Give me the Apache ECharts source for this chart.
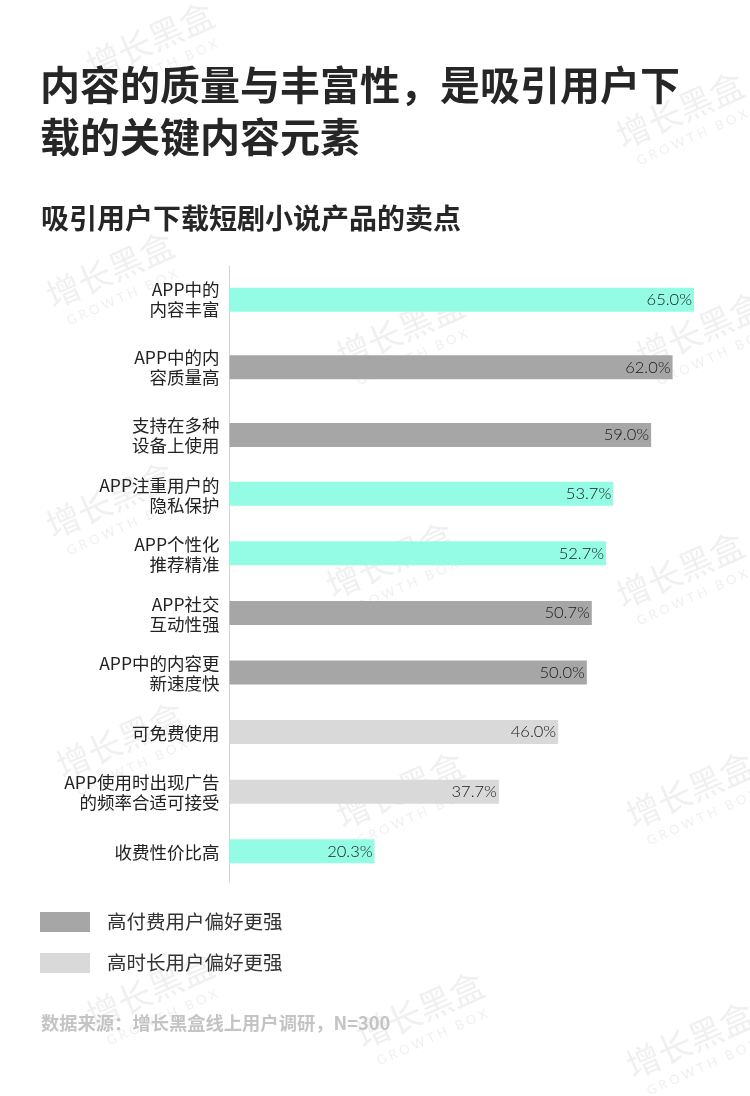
<!DOCTYPE html>
<html>
<head>
<meta charset="utf-8">
<script src="https://cdn.jsdelivr.net/npm/echarts@6/dist/echarts.min.js"></script>
<style>
html,body{margin:0;padding:0;background:#fff;}
#chart{width:750px;height:1096px;}
</style>
</head>
<body>
<div id="chart"></div>
<script>
// ---- data ----
const categories = [
  'APP中的\n内容丰富',
  'APP中的内\n容质量高',
  '支持在多种\n设备上使用',
  'APP注重用户的\n隐私保护',
  'APP个性化\n推荐精准',
  'APP社交\n互动性强',
  'APP中的内容更\n新速度快',
  '可免费使用',
  'APP使用时出现广告\n的频率合适可接受',
  '收费性价比高'
];
const values = [65.0, 62.0, 59.0, 53.7, 52.7, 50.7, 50.0, 46.0, 37.7, 20.3];
const preference = ['none', 'paid', 'paid', 'none', 'none', 'paid', 'paid', 'time', 'time', 'none'];
const legendNames = ['高付费用户偏好更强', '高时长用户偏好更强'];

const colorMap = { none: '#94FCE4', paid: '#A6A6A6', time: '#D9D9D9' };
const CJK = '"Noto Sans CJK SC", "Noto Sans", sans-serif';
const NUM = 'Lato, "Noto Sans", sans-serif';

const splitAt = 3;
function mkData(from, to) {
  return values.slice(from, to).map((v, i) => ({
    value: v,
    itemStyle: { color: colorMap[preference[from + i]] }
  }));
}

const chart = echarts.init(document.getElementById('chart'));

const yAxisCommon = {
  type: 'category',
  inverse: true,
  axisTick: { show: false },
  axisLine: { show: true, lineStyle: { color: '#D4D4D4', width: 1 } },
  axisLabel: {
    color: '#222', fontFamily: CJK, fontSize: 17.5, lineHeight: 20,
    margin: 10, align: 'right'
  }
};
const xAxisCommon = {
  type: 'value', min: 0, max: 65,
  show: false, splitLine: { show: false }
};
const barCommon = {
  type: 'bar', barWidth: 24,
  label: {
    show: true, position: 'insideRight', distance: 2,
    formatter: p => p.value.toFixed(1) + '%',
    color: '#1a1a1a', fontFamily: NUM, fontSize: 16.5, fontWeight: 300
  },
  silent: true
};

// watermark decoration
const wmPos = [[150,40],[680,110],[110,270],[400,330],[700,330],[110,500],[390,560],[680,570],[120,740],[400,790],[690,790],[150,990],[420,1010],[690,1040]];
const graphics = wmPos.map(p => ({
  type: 'group', x: p[0], y: p[1], rotation: Math.PI / 7.5, z: -10, silent: true,
  children: [
    { type: 'text', style: { text: '增长黑盒', x: 0, y: 0, fill: '#F0F0F0', font: '34px ' + CJK, textAlign: 'center', textVerticalAlign: 'middle' } },
    { type: 'text', style: { text: 'G R O W T H   B O X', x: 0, y: 30, fill: '#F0F0F0', font: '13px ' + NUM, textAlign: 'center', textVerticalAlign: 'middle' } }
  ]
}));

chart.setOption({
  backgroundColor: '#fff',
  animation: false,
  title: [
    {
      text: '内容的质量与丰富性，是吸引用户下\n载的关键内容元素',
      left: 40, top: 59, padding: 0,
      textStyle: { color: '#262626', fontFamily: CJK, fontSize: 40, fontWeight: 'bold', lineHeight: 52 }
    },
    {
      text: '吸引用户下载短剧小说产品的卖点',
      left: 41, top: 200, padding: 0,
      textStyle: { color: '#262626', fontFamily: CJK, fontSize: 28, fontWeight: 'bold', lineHeight: 36 }
    },
    {
      text: '数据来源：增长黑盒线上用户调研，N=300',
      left: 41, top: 1012, padding: 0,
      textStyle: { color: '#C4C4C4', fontFamily: CJK, fontSize: 18.3, fontWeight: 'bold', lineHeight: 22 }
    }
  ],
  legend: {
    data: legendNames, orient: 'vertical', left: 40, top: 912, padding: 0,
    icon: 'rect', itemWidth: 50, itemHeight: 20, itemGap: 21,
    textStyle: { color: '#333', fontFamily: CJK, fontSize: 19.5, padding: [0, 0, 0, 12] },
    selectedMode: false
  },
  grid: [
    { left: 229.5, right: 56, top: 266, height: 202.7 },
    { left: 229.5, right: 56, top: 465.2, height: 417 }
  ],
  xAxis: [
    Object.assign({ gridIndex: 0 }, xAxisCommon),
    Object.assign({ gridIndex: 1 }, xAxisCommon)
  ],
  yAxis: [
    Object.assign({ gridIndex: 0, data: categories.slice(0, splitAt) }, yAxisCommon),
    Object.assign({ gridIndex: 1, data: categories.slice(splitAt) }, yAxisCommon)
  ],
  series: [
    Object.assign({ xAxisIndex: 0, yAxisIndex: 0, data: mkData(0, splitAt) }, barCommon),
    Object.assign({ xAxisIndex: 1, yAxisIndex: 1, data: mkData(splitAt, values.length) }, barCommon),
    { type: 'bar', name: legendNames[0], xAxisIndex: 1, yAxisIndex: 1, data: [], itemStyle: { color: colorMap.paid } },
    { type: 'bar', name: legendNames[1], xAxisIndex: 1, yAxisIndex: 1, data: [], itemStyle: { color: colorMap.time } }
  ],
  graphic: graphics
});
</script>
</body>
</html>
